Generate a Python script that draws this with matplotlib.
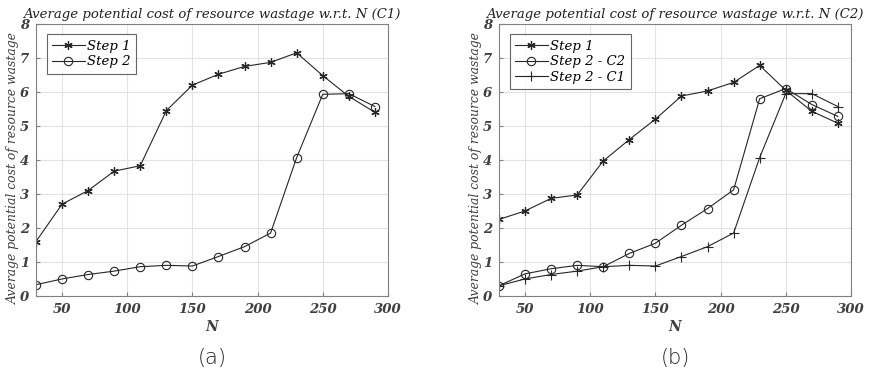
import matplotlib.pyplot as plt
import numpy as np

plt.rcParams['font.family'] = 'serif'
plt.rcParams['font.serif'] = ['DejaVu Serif']

# Data
N = [30, 50, 70, 90, 110, 130, 150, 170, 190, 210, 230, 250, 270, 290]

# (a) C1
a_step1 = [1.6, 2.7, 3.1, 3.67, 3.83, 5.45, 6.2, 6.52, 6.75, 6.87, 7.15, 6.48, 5.87, 5.4]
a_step2 = [0.33, 0.5, 0.63, 0.73, 0.86, 0.9, 0.88, 1.16, 1.45, 1.85, 4.07, 5.93, 5.95, 5.57]

# (b) C2
b_step1 = [2.25, 2.5, 2.87, 2.97, 3.97, 4.6, 5.2, 5.88, 6.03, 6.28, 6.78, 6.05, 5.43, 5.08]
b_step2_c2 = [0.3, 0.65, 0.8, 0.9, 0.86, 1.25, 1.55, 2.08, 2.57, 3.12, 5.8, 6.1, 5.63, 5.28]
b_step2_c1 = [0.3, 0.5, 0.63, 0.73, 0.86, 0.9, 0.88, 1.16, 1.45, 1.85, 4.07, 5.95, 5.95, 5.57]

fig = plt.figure(figsize=(8.69, 3.77), dpi=100)
ax1 = fig.add_axes([0.0414, 0.215, 0.405, 0.7215])
ax2 = fig.add_axes([0.5742, 0.215, 0.405, 0.7215])

lc = '#262626'
star = (6, 2, 0)  # MATLAB-like asterisk


def style(ax, title, sub):
    ax.set_xlim(30, 300)
    ax.set_ylim(0, 8)
    ax.set_xticks([50, 100, 150, 200, 250, 300])
    ax.set_yticks(range(0, 9))
    ax.grid(True, color='#e3e3e3', linewidth=0.8)
    ax.set_axisbelow(True)
    for s in ax.spines.values():
        s.set_color('#808080')
    ax.tick_params(direction='in', length=3, color='#808080', labelcolor='#404040',
                   labelsize=9.5, pad=5)
    for lab in ax.get_xticklabels() + ax.get_yticklabels():
        lab.set_fontstyle('italic')
        lab.set_fontweight('bold')
    ax.set_title(title, fontsize=9.5, style='italic', color='#222222', pad=4)
    ax.set_xlabel('N', fontsize=10, style='italic', fontweight='bold', color='#404040', labelpad=3)
    ax.set_ylabel('Average potential cost of resource wastage', fontsize=8.9,
                  style='italic', color='#404040')
    ax.yaxis.set_label_coords(-0.045, 0.47)
    ax.text(0.5, -0.228, sub, transform=ax.transAxes, ha='center', va='center',
            fontsize=15, family='DejaVu Sans', fontweight='light', color='#222222')


ax1.plot(N, a_step1, color=lc, lw=0.8, marker=star, ms=6, mew=0.9, label='Step 1')
ax1.plot(N, a_step2, color=lc, lw=0.8, marker='o', ms=6, mfc='none', mew=0.8, label='Step 2')
style(ax1, 'Average potential cost of resource wastage w.r.t. N (C1)', '(a)')

ax2.plot(N, b_step1, color=lc, lw=0.8, marker=star, ms=6, mew=0.9, label='Step 1')
ax2.plot(N, b_step2_c2, color=lc, lw=0.8, marker='o', ms=6, mfc='none', mew=0.8, label='Step 2 - C2')
ax2.plot(N, b_step2_c1, color=lc, lw=0.8, marker='+', ms=7, mew=0.8, label='Step 2 - C1')
style(ax2, 'Average potential cost of resource wastage w.r.t. N (C2)', '(b)')

for ax in (ax1, ax2):
    leg = ax.legend(loc='upper left', fancybox=False, edgecolor='#404040',
                    prop=dict(style='italic', size=9.5),
                    handlelength=2.5, borderpad=0.4, labelspacing=0.2,
                    handletextpad=0.2, borderaxespad=0.8)
    leg.get_frame().set_linewidth(0.8)

plt.savefig('out.png', dpi=100)
